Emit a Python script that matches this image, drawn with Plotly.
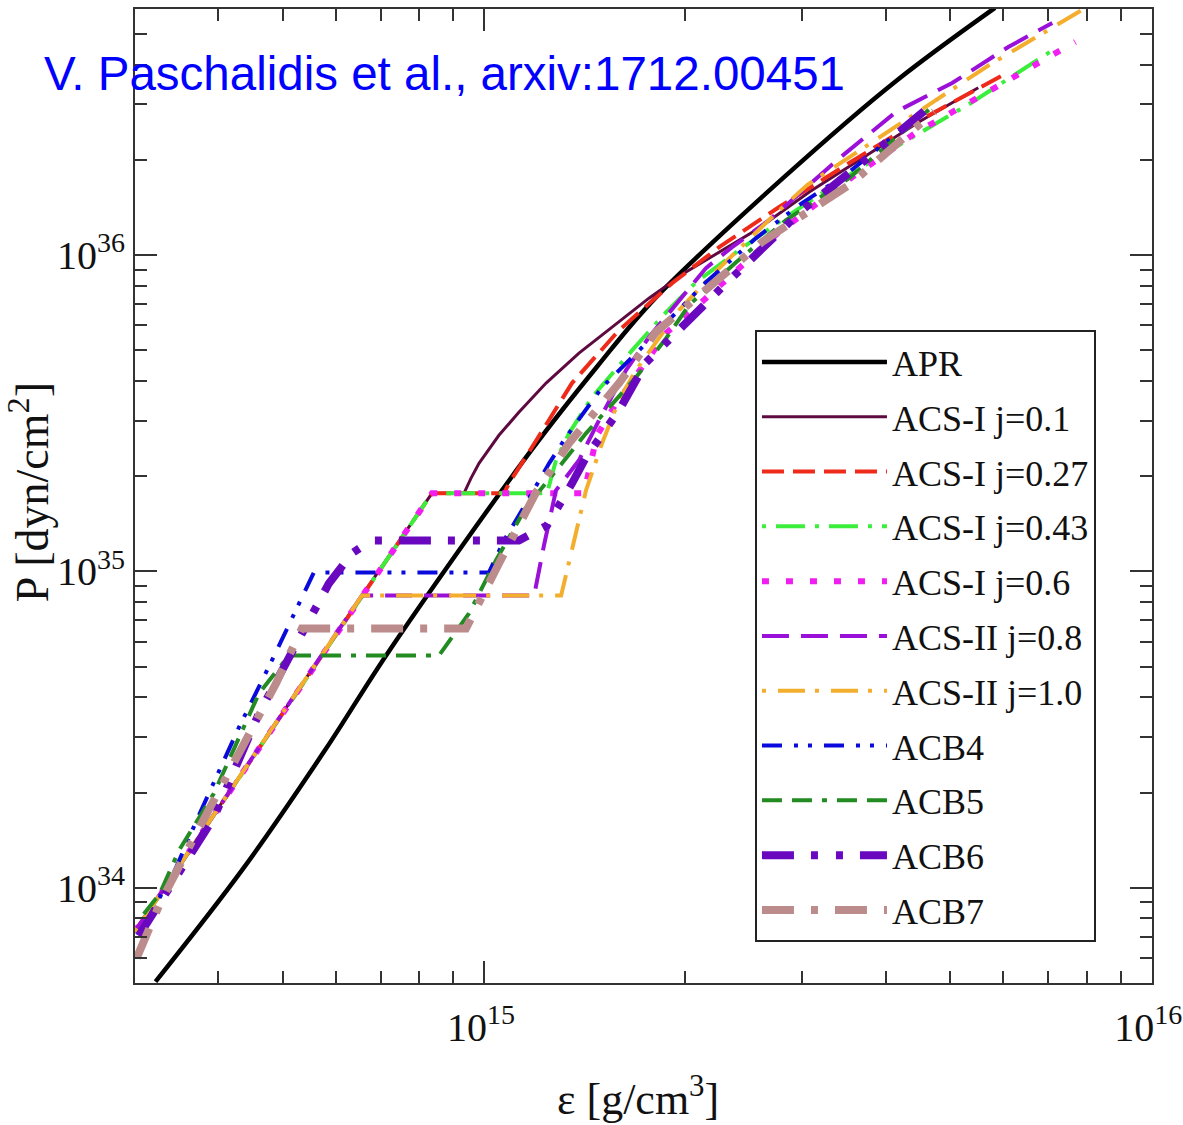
import plotly.graph_objects as go

# epsilon in units of 1e15 g/cm^3, P in units of 1e35 dyn/cm^2
E15 = 1e15
P35 = 1e35

apr_eps = [0.322, 0.437, 0.579, 0.723, 1.18, 1.48, 1.80, 2.83, 4.15, 5.83]
apr_p = [0.0505, 0.116, 0.274, 0.566, 2.43, 4.46, 7.26, 17.8, 35.6, 60.5]

acs1_01_eps = [0.2997, 0.6563, 0.8356, 0.9333, 0.956, 0.983, 1.053, 1.128, 1.239, 1.388, 1.556, 1.767, 2.008, 2.557, 3.072, 4.489, 5.504]
acs1_01_p = [0.0726, 0.839, 1.766, 1.766, 1.970, 2.197, 2.694, 3.185, 3.94, 4.90, 5.92, 7.31, 8.84, 12.0, 15.83, 26.4, 33.8]

acs1_027_eps = [0.2997, 0.6563, 0.8356, 1.0715, 1.090, 1.180, 1.355, 1.594, 1.914, 2.251, 2.769, 3.526, 4.428, 6.105]
acs1_027_p = [0.0726, 0.839, 1.766, 1.766, 1.899, 2.469, 3.94, 5.79, 8.15, 10.6, 14.19, 19.55, 26.2, 37.9]

acs1_043_eps = [0.2997, 0.6563, 0.8356, 1.243, 1.282, 1.341, 1.452, 1.667, 1.875, 2.079, 2.412, 2.836, 3.526, 4.190, 5.372, 7.204]
acs1_043_p = [0.0726, 0.839, 1.766, 1.766, 2.245, 2.733, 3.553, 5.00, 6.60, 8.21, 10.37, 13.19, 17.92, 22.3, 30.3, 45.2]

acs1_06_eps = [0.2997, 0.6563, 0.8356, 1.412, 1.477, 1.572, 1.875, 2.016, 2.769, 3.563, 4.428, 5.657, 7.692]
acs1_06_p = [0.0726, 0.839, 1.766, 1.766, 2.694, 3.353, 5.67, 6.46, 11.83, 17.65, 24.3, 32.6, 47.2]

acs2_08_eps = [0.2997, 0.6563, 1.189, 1.230, 1.282, 1.388, 1.487, 1.633, 1.767, 2.151, 2.354, 2.675, 2.896, 3.383, 4.147, 5.030, 6.105, 7.105]
acs2_08_p = [0.0726, 0.839, 0.839, 1.209, 1.804, 2.245, 3.005, 4.33, 5.50, 9.10, 10.6, 12.9, 14.93, 19.98, 28.4, 35.0, 45.5, 54.2]

acs2_10_eps = [0.2997, 0.6563, 1.305, 1.364, 1.422, 1.503, 1.594, 1.690, 1.961, 2.197, 2.741, 3.050, 4.190, 5.716, 7.88]
acs2_10_p = [0.0726, 0.839, 0.839, 1.253, 1.804, 2.542, 3.48, 4.33, 6.70, 8.65, 13.58, 16.66, 25.8, 39.9, 59.6]

acb4_eps = [0.3092, 0.344, 0.3725, 0.4292, 0.4811, 0.556, 1.0174, 1.0715, 1.168, 1.252, 1.327, 1.503, 1.708, 2.151, 2.557, 2.967, 3.526, 4.428]
acb4_p = [0.0758, 0.1132, 0.1665, 0.3209, 0.523, 0.9927, 0.9927, 1.253, 1.702, 2.197, 2.656, 3.82, 5.00, 8.21, 11.32, 14.39, 18.31, 27.1]

acb5_eps = [0.3092, 0.3267, 0.3489, 0.3937, 0.4600, 0.5100, 0.8561, 0.9495, 1.042, 1.156, 1.309, 1.422, 1.690, 1.875, 2.029, 2.387, 2.836, 3.526, 4.728]
acb5_p = [0.0827, 0.0957, 0.1309, 0.1984, 0.4111, 0.542, 0.542, 0.7363, 1.083, 1.594, 2.197, 2.733, 4.11, 5.46, 6.95, 9.50, 12.9, 17.52, 29.8]

acb6_eps = [0.3039, 0.3937, 0.4600, 0.5856, 0.634, 0.677, 1.128, 1.243, 1.355, 1.422, 1.594, 1.750, 2.251, 2.496, 2.998, 3.650, 4.778]
acb6_p = [0.0705, 0.1665, 0.3554, 0.9163, 1.140, 1.253, 1.253, 1.398, 1.899, 2.295, 3.232, 4.58, 7.75, 9.50, 13.88, 19.27, 30.9]

acb7_eps = [0.3018, 0.3267, 0.3637, 0.4396, 0.4878, 0.5334, 0.9397, 1.053, 1.197, 1.341, 1.594, 1.810, 2.251, 2.611, 2.896, 3.526, 4.728]
acb7_p = [0.0600, 0.0890, 0.1378, 0.2918, 0.4420, 0.660, 0.660, 1.060, 1.778, 2.542, 3.94, 5.71, 8.46, 11.0, 12.72, 16.66, 28.4]

names = ["APR", "ACS-I j=0.1", "ACS-I j=0.27", "ACS-I j=0.43", "ACS-I j=0.6",
         "ACS-II j=0.8", "ACS-II j=1.0", "ACB4", "ACB5", "ACB6", "ACB7"]

x_tickvals = [1e15, 1e16]
x_ticktext = ["10<sup>15</sup>", "10<sup>16</sup>"]
y_tickvals = [1e34, 1e35, 1e36]
y_ticktext = ["10<sup>34</sup>", "10<sup>35</sup>", "10<sup>36</sup>"]

x_title = "ε [g/cm<sup>3</sup>]"
y_title = "P [dyn/cm<sup>2</sup>]"
credit = "V. Paschalidis et al., arxiv:1712.00451"

series = [
    (apr_eps, apr_p, dict(color="#000000", width=4.5, dash="solid"), "spline"),
    (acs1_01_eps, acs1_01_p, dict(color="#5E0A40", width=3, dash="solid"), "linear"),
    (acs1_027_eps, acs1_027_p, dict(color="#EE2A1A", width=4, dash="22px,9px"), "linear"),
    (acs1_043_eps, acs1_043_p, dict(color="#3CEE3C", width=4, dash="4px,10px,29px,10px"), "linear"),
    (acs1_06_eps, acs1_06_p, dict(color="#F01EF0", width=6, dash="7px,17px"), "linear"),
    (acs2_08_eps, acs2_08_p, dict(color="#9A10D8", width=4, dash="27px,12px"), "linear"),
    (acs2_10_eps, acs2_10_p, dict(color="#F4AE2E", width=4, dash="4px,12px,27px,10px"), "linear"),
    (acb4_eps, acb4_p, dict(color="#0A0ADC", width=4, dash="20px,12px,4px,10px,4px,12px"), "linear"),
    (acb5_eps, acb5_p, dict(color="#228B22", width=4, dash="20px,10px,20px,10px,5px,10px"), "linear"),
    (acb6_eps, acb6_p, dict(color="#6A08C0", width=8, dash="32px,17px,7px,18px,7px,17px"), "linear"),
    (acb7_eps, acb7_p, dict(color="#BC8C8C", width=8, dash="32px,17px,7px,17px"), "linear"),
]

fig = go.Figure()
for i, (ex, py, ln, shape) in enumerate(series):
    fig.add_trace(go.Scatter(
        x=[e * E15 for e in ex], y=[p * P35 for p in py],
        mode="lines", name=names[i], line=dict(shape=shape, **ln),
        legendgroup=names[i],
    ))

serif = "Liberation Serif"
axis_common = dict(
    type="log", showgrid=False, zeroline=False, showline=True,
    linecolor="#333333", linewidth=2, mirror="ticks",
    ticks="inside", ticklen=22, tickwidth=1.5, tickcolor="#333333",
    tickfont=dict(family=serif, size=40, color="#111111"),
    ticklabeloverflow="allow", automargin=False,
)

minor_x = [a * 10.0 ** b for b in (14, 15) for a in range(2, 10)]
minor_y = [a * 10.0 ** b for b in (33, 34, 35, 36) for a in range(2, 10)]

fig.update_xaxes(
    range=[14.4771, 16.001], tickmode="array", tickvals=x_tickvals, ticktext=x_ticktext,
    minor=dict(tickmode="array", tickvals=minor_x, ticks="inside", ticklen=12,
               tickwidth=1.5, tickcolor="#333333", showgrid=False),
    ticklabelshift=-3, ticklabelstandoff=8,
    **axis_common,
)
fig.update_yaxes(
    range=[33.699, 36.778], tickmode="array", tickvals=y_tickvals, ticktext=y_ticktext,
    minor=dict(tickmode="array", tickvals=minor_y, ticks="inside", ticklen=12,
               tickwidth=1.5, tickcolor="#333333", showgrid=False),
    **axis_common,
)

fig.update_layout(
    width=1183, height=1125,
    margin=dict(l=135, r=31, t=9, b=142, autoexpand=False),
    paper_bgcolor="white", plot_bgcolor="white",
    showlegend=True,
    legend=dict(
        x=0.6096, y=0.6704, xanchor="left", yanchor="top",
        bgcolor="white", bordercolor="#222222", borderwidth=2,
        font=dict(family=serif, size=36, color="#111111"),
        itemwidth=125, tracegroupgap=5, traceorder="grouped",
    ),
    annotations=[
        dict(text=credit, xref="paper", yref="paper",
             x=-0.0914, y=0.934, xanchor="left", yanchor="middle", showarrow=False,
             font=dict(family="Liberation Sans", size=47.5, color="#0000FF")),
        dict(text=x_title, xref="paper", yref="paper",
             x=0.4946, y=-0.117, xanchor="center", yanchor="middle", showarrow=False,
             font=dict(family=serif, size=44, color="#111111")),
        dict(text=y_title, xref="paper", yref="paper", textangle=-90,
             x=-0.1042, y=0.504, xanchor="center", yanchor="middle", showarrow=False,
             font=dict(family=serif, size=46, color="#111111")),
    ],
)

fig.write_html("out.html")
